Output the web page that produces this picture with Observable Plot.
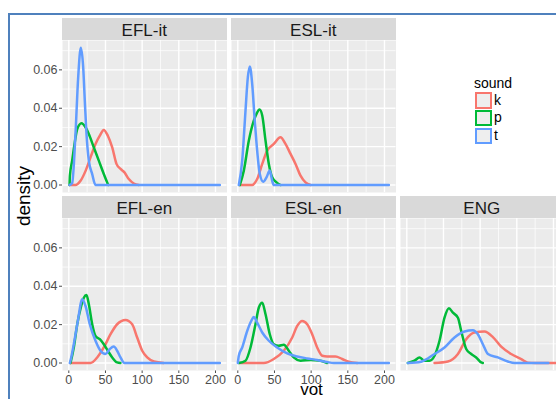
<!DOCTYPE html>
<html>
<head>
<meta charset="utf-8">
<script src="https://cdn.jsdelivr.net/npm/d3@7"></script>
<script src="https://cdn.jsdelivr.net/npm/@observablehq/plot@0.6"></script>
<style>
  html, body { margin: 0; padding: 0; background: #fff; }
  #wrap { position: relative; width: 556px; height: 399px; overflow: hidden; background: #fff;
          font-family: "Liberation Sans", Arial, sans-serif; }
  .frame { position: absolute; left: 8px; top: 13px; width: 700px; height: 600px;
           border: 2px solid #4F81BD; box-sizing: border-box; }
  .strip { position: absolute; height: 22px; background: #D9D9D9; color: #1A1A1A;
           font-size: 17px; line-height: 25px; text-align: center; white-space: nowrap; overflow: visible; }
  .title { position: absolute; color: #000; white-space: nowrap; }
  .key { position: absolute; width: 17px; height: 16.5px; box-sizing: border-box; border: 2.3px solid; background: #EEEEEE; }
  .klab { position: absolute; font-size: 14px; line-height: 17px; color: #000; }
</style>
</head>
<body>
<div id="wrap">
  <div class="frame"></div>
</div>
<script>
// ---- data: [vot, density] ----
const SOUNDS = ["k", "p", "t"];
const COLORS = ["#F8766D", "#00BA38", "#619CFF"];
const PANELS = ["EFL-it", "ESL-it", "EFL-en", "ESL-en", "ENG"];
const X_TICKS = [0, 50, 100, 150, 200];
const X_MINOR = [25, 75, 125, 175];
const Y_TICKS = [0, 0.02, 0.04, 0.06];
const Y_MINOR = [0.01, 0.03, 0.05, 0.07];

const EFL_it_k = [[1,0],[9,0],[16,0.0022],[23,0.0075],[29.6,0.0144],[36.4,0.0214],[42.3,0.0257],[47.7,0.0287],[53.2,0.0257],[59.2,0.0196],[65,0.011],[70.5,0.0084],[75.9,0.0066],[81.8,0.0031],[88.6,0.0008],[95.4,0]];
const EFL_it_p = [[1,0],[1.5,0.0049],[4.6,0.0127],[7.8,0.0214],[11.5,0.0292],[17.3,0.0322],[22.8,0.0301],[27.3,0.0266],[34.1,0.0196],[40.9,0.0127],[47.7,0.0057],[53.7,0]];
const EFL_it_t = [[1,0],[4.6,0.001],[9.1,0.0266],[12.8,0.0562],[16.4,0.0715],[19.6,0.0614],[21.8,0.044],[24.1,0.0267],[27.3,0.0127],[31.9,0.0057],[36.4,0],[206,0]];

const ESL_it_k = [[2,0],[19.6,0],[26.4,0.0031],[33.3,0.011],[40.1,0.0179],[49.1,0.0214],[58.2,0.0249],[65,0.0214],[71.9,0.0162],[78.7,0.011],[85.5,0.0049],[92.3,0.0014],[99.1,0]];
const ESL_it_p = [[2.7,0],[8.2,0.0075],[15,0.0231],[21.8,0.0336],[25.5,0.0371],[29.6,0.0393],[33.3,0.0362],[37.8,0.0231],[42.3,0.011],[46.9,0.004],[52.8,0.0014],[58.2,0]];
const ESL_it_t = [[1.4,0],[6,0.0127],[10.5,0.0388],[13.7,0.0562],[16.4,0.0618],[19.6,0.0527],[22.8,0.0353],[26.4,0.0179],[30,0.0057],[34.6,0.0017],[39.1,0.004],[43.6,0.0075],[46.9,0.0022],[49.1,0],[206,0]];

const EFL_en_k = [[2,0],[29.6,0],[38.7,0.0029],[47.7,0.0081],[56.9,0.015],[65.9,0.0202],[77.3,0.0224],[86.4,0.0202],[93.2,0.0133],[100.1,0.0064],[106.9,0.0029],[116,0.0008],[129.5,0]];
const EFL_en_p = [[2.3,0],[6.8,0.0081],[11.5,0.0202],[16.9,0.0297],[20.5,0.034],[24.1,0.0354],[27.3,0.0306],[31.9,0.0202],[36.4,0.0141],[42.3,0.0124],[47.7,0.0098],[53.2,0.0064],[59.2,0.0029],[65.9,0.0003],[70.5,0]];
const EFL_en_t = [[1.4,0],[3.3,0.0029],[6.8,0.0098],[12.3,0.0219],[18.3,0.0332],[22.8,0.0297],[28.6,0.0202],[36.4,0.0116],[43.2,0.0064],[50,0.0047],[55.9,0.0073],[61.3,0.0086],[65.9,0.0064],[70.5,0.0029],[76,0],[206,0]];

const ESL_en_k = [[2,0],[35.4,0],[49.1,0.0021],[62.7,0.0064],[74.2,0.0133],[81,0.0193],[87.8,0.0219],[94.6,0.0202],[101.4,0.015],[108.2,0.0081],[115.1,0.0038],[121.9,0.0034],[133.2,0.0034],[142.3,0.0021],[151.3,0.0007],[162.8,0]];
const ESL_en_p = [[1.4,0],[10.5,0.0012],[17.3,0.0081],[24.1,0.0202],[28.6,0.0288],[33.3,0.0314],[37.8,0.0254],[43.6,0.015],[49.1,0.0098],[55.9,0.009],[62.7,0.0095],[69.5,0.0064],[76.3,0.0029],[85.5,0.0012],[99.1,0.0016],[112.7,0.0012],[121.9,0]];
const ESL_en_t = [[0,0],[1.4,0.0038],[6,0.0081],[12.8,0.0167],[18.3,0.0219],[21.8,0.024],[26.4,0.021],[33.3,0.0159],[42.3,0.0116],[53.7,0.0081],[67.3,0.005],[81,0.0034],[94.6,0.0024],[108.2,0.0016],[121.9,0.0005],[130.9,0],[206,0]];

const ENG_k = [[37.8,0],[56,0.0008],[69.7,0.0047],[81,0.0124],[92.3,0.0159],[105.9,0.0164],[117.4,0.0135],[128.7,0.0085],[142.3,0.0047],[156,0.002],[165,0.0002],[175,0],[215,0]];
const ENG_p = [[1.4,0],[10.5,0.0012],[17.3,0.0029],[24.1,0.0012],[30.9,0.0012],[37.8,0.0038],[44.6,0.0116],[51.4,0.0236],[57.4,0.0285],[62.9,0.0262],[69.7,0.0236],[74.2,0.0167],[81,0.0073],[87.8,0.0047],[94.6,0.0029],[101.4,0.0003],[103.7,0]];
const ENG_t = [[1.4,0],[19.6,0.0007],[37.8,0.0047],[51.4,0.0081],[65,0.0133],[78.7,0.0164],[90.1,0.0171],[96.9,0.015],[103.7,0.0098],[110.6,0.0047],[124.2,0.0029],[137.8,0.0008],[146.9,0],[193,0]];

const SERIES = {
  "EFL-it": {k: EFL_it_k, p: EFL_it_p, t: EFL_it_t},
  "ESL-it": {k: ESL_it_k, p: ESL_it_p, t: ESL_it_t},
  "EFL-en": {k: EFL_en_k, p: EFL_en_p, t: EFL_en_t},
  "ESL-en": {k: ESL_en_k, p: ESL_en_p, t: ESL_en_t},
  "ENG":    {k: ENG_k,    p: ENG_p,    t: ENG_t}
};

// ---- layout ----
const X_DOMAIN = [-8.6, 215.7];
const Y_DOMAIN = [-0.0039, 0.0753];
const PW = 164.5, PH = 152;
const COL_LEFT = [62, 231, 399.5];
const ROW_TOP = [40, 218];
const place = {
  "EFL-it": [0, 0], "ESL-it": [1, 0], "EFL-en": [0, 1], "ESL-en": [1, 1], "ENG": [2, 1]
};
const showX = {"EFL-en": true, "ESL-en": true};

const wrap = document.getElementById("wrap");
const FONT = '"Liberation Sans", Arial, sans-serif';

for (const name of PANELS) {
  const [c, r] = place[name];
  const yAxis = c === 0;
  const xAxis = !!showX[name];
  const L = yAxis ? 62 : 12, R = 12, T = 4, B = xAxis ? 24 : 4;
  const rows = SOUNDS.flatMap(s => SERIES[name][s].map(([vot, density]) => ({vot, density, sound: s})));
  const svg = Plot.plot({
    width: L + PW + R, height: T + PH + B,
    marginLeft: L, marginRight: R, marginTop: T, marginBottom: B,
    style: {background: "transparent", fontSize: "12.5px", fontFamily: FONT, color: "#4D4D4D", overflow: "visible"},
    x: {domain: X_DOMAIN, axis: xAxis ? "bottom" : null, ticks: X_TICKS, tickSize: 3, tickPadding: 2, label: null},
    y: {domain: Y_DOMAIN, axis: yAxis ? "left" : null, ticks: Y_TICKS, tickFormat: d3.format(".2f"), tickSize: 3, tickPadding: 2, label: null},
    color: {domain: SOUNDS, range: COLORS},
    marks: [
      Plot.frame({fill: "#EBEBEB", stroke: "none"}),
      Plot.ruleX(X_MINOR, {stroke: "#FFFFFF", strokeWidth: 0.7}),
      Plot.ruleY(Y_MINOR, {stroke: "#FFFFFF", strokeWidth: 0.7}),
      Plot.ruleX(X_TICKS, {stroke: "#FFFFFF", strokeWidth: 1.4}),
      Plot.ruleY(Y_TICKS, {stroke: "#FFFFFF", strokeWidth: 1.4}),
      Plot.line(rows, {x: "vot", y: "density", stroke: "sound", z: "sound", strokeWidth: 2.5, curve: "monotone-x"})
    ]
  });
  svg.style.position = "absolute";
  svg.style.left = (COL_LEFT[c] - L) + "px";
  svg.style.top = (ROW_TOP[r] - T) + "px";
  svg.style.maxWidth = "none";
  wrap.appendChild(svg);

  const strip = document.createElement("div");
  strip.className = "strip";
  strip.style.left = COL_LEFT[c] + "px";
  strip.style.top = (ROW_TOP[r] - 22) + "px";
  strip.style.width = PW + "px";
  strip.textContent = name;
  wrap.appendChild(strip);
}

// axis titles
const yt = document.createElement("div");
yt.className = "title";
yt.textContent = "density";
yt.style.fontSize = "19px";
yt.style.lineHeight = "19px";
yt.style.left = "22.5px";
yt.style.top = "196px";
yt.style.transform = "translate(-50%, -50%) rotate(-90deg)";
wrap.appendChild(yt);

const xt = document.createElement("div");
xt.className = "title";
xt.textContent = "vot";
xt.style.fontSize = "17px";
xt.style.lineHeight = "12px";
xt.style.left = "0px";
xt.style.width = "623px";
xt.style.textAlign = "center";
xt.style.top = "384px";
wrap.appendChild(xt);

// legend
const lt = document.createElement("div");
lt.className = "title";
lt.textContent = "sound";
lt.style.fontSize = "14px";
lt.style.lineHeight = "16px";
lt.style.left = "474px";
lt.style.top = "75px";
wrap.appendChild(lt);
SOUNDS.forEach((s, i) => {
  const top = 92.3 + i * 17.6;
  const k = document.createElement("div");
  k.className = "key";
  k.style.left = "475px";
  k.style.top = top + "px";
  k.style.borderColor = COLORS[i];
  wrap.appendChild(k);
  const lab = document.createElement("div");
  lab.className = "klab";
  lab.textContent = s;
  lab.style.left = "494px";
  lab.style.top = (top - 0.5) + "px";
  wrap.appendChild(lab);
});
</script>
</body>
</html>
